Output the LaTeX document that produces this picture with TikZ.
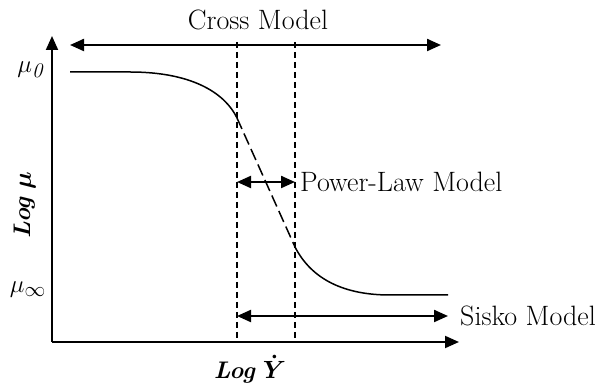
\documentclass[tikz,border=0pt]{standalone}
\usepackage{amsmath}
\usepackage{bm}
\usetikzlibrary{arrows.meta}

\begin{document}
\begin{tikzpicture}[x=1pt, y=-1pt, every node/.style={font=\fontsize{28}{32}\selectfont, inner sep=0pt},
  axis/.style={line width=2pt, -{Triangle[length=14pt,width=12pt]}},
  span/.style={line width=2.2pt, {Triangle[length=14pt,width=12pt]}-{Triangle[length=14pt,width=12pt]}},
  guide/.style={line width=1.3pt, dash pattern=on 6pt off 4pt},
  curve/.style={line width=1.5pt},
  axlabel/.style={font=\fontsize{24}{28}\selectfont}]
\useasboundingbox (0,0) rectangle (595,387);
% axes
\coordinate (o) at (52,342);
\coordinate (ytip) at (52,36);
\coordinate (xtip) at (459,342);
\draw[axis] (o) -- (ytip);
\draw[axis] (o) -- (xtip);
% axis labels
\node[axlabel] (ylab) at (25,205) [rotate=90] {\textbf{\textit{Log}} $\bm{\mu}$};
\node[axlabel] (xlab) at (250,369) {\textbf{\textit{Log}} $\bm{\dot{Y}}$};
\node (mu0) [anchor=east] at (46,70) {$\mu_{\mathit{0}}$};
\node (muinf) [anchor=east] at (46,290) {$\mu_{\infty}$};
% dashed guides
\coordinate (g1t) at (237,42);
\coordinate (g1b) at (237,342);
\coordinate (g2t) at (295,42);
\coordinate (g2b) at (295,342);
\draw[guide] (g1t) -- (g1b);
\draw[guide] (g2t) -- (g2b);
% viscosity curve
\coordinate (c0) at (70,72);
\coordinate (c1) at (237,118);
\coordinate (c2) at (295,247);
\coordinate (c3) at (448,295);
\draw[curve] (c0) -- (130,72) .. controls (195,72) and (226,95) .. (c1);
\draw[curve, dash pattern=on 12pt off 5pt] (c1) -- (c2);
\draw[curve] (c2) .. controls (312,280) and (345,295) .. (390,295) -- (c3);
% model ranges
\coordinate (ca) at (70,45);
\coordinate (cb) at (441,45);
\draw[span] (ca) -- (cb);
\node (cross) at (258,20) {Cross Model};
\coordinate (pa) at (237,182);
\coordinate (pb) at (295,182);
\draw[span] (pa) -- (pb);
\node (power) [anchor=west] at (300,182) {Power-Law Model};
\coordinate (sa) at (237,316);
\coordinate (sb) at (448,316);
\draw[span] (sa) -- (sb);
\node (sisko) [anchor=west] at (460,316) {Sisko Model};
\end{tikzpicture}
\end{document}
